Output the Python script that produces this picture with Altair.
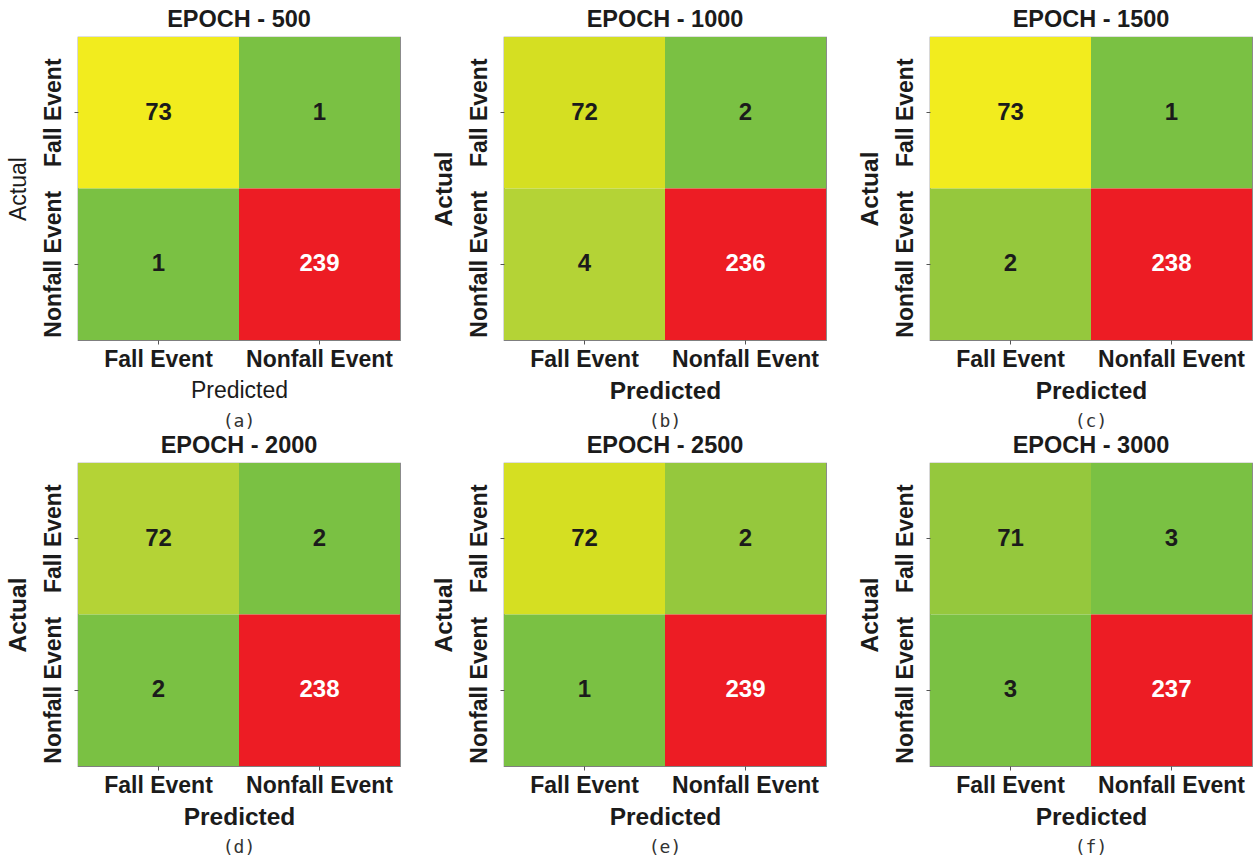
import altair as alt
import pandas as pd

# Confusion matrices of the fall detector at six training checkpoints
epochs = [500, 1000, 1500, 2000, 2500, 3000]
captions = ["(a)", "(b)", "(c)", "(d)", "(e)", "(f)"]
classes = ["Fall Event", "Nonfall Event"]

# cell order: actual/predicted = Fall/Fall, Fall/Nonfall, Nonfall/Fall, Nonfall/Nonfall
counts = [
    [73, 1, 1, 239],
    [72, 2, 4, 236],
    [73, 1, 2, 238],
    [72, 2, 2, 238],
    [72, 2, 1, 239],
    [71, 3, 3, 237],
]
# colour bucket of each cell (0 = green ... 4 = yellow, 5 = red)
shades = [
    [4, 0, 0, 5],
    [3, 0, 2, 5],
    [4, 0, 1, 5],
    [2, 0, 0, 5],
    [3, 1, 0, 5],
    [1, 0, 0, 5],
]
shade_colors = ["#7AC143", "#95C83D", "#B4D336", "#D5DF22", "#F2EC1E", "#ED1C24"]

W, H = 322, 303
FONT = "Liberation Sans"


def panel(i):
    rows = []
    k = 0
    for a in classes:
        for p in classes:
            rows.append({"Actual": a, "Predicted": p,
                         "count": counts[i][k], "shade": shades[i][k]})
            k += 1
    df = pd.DataFrame(rows)
    weight = "normal" if i == 0 else "bold"
    tsize = 23 if i == 0 else 24.5
    band = alt.Scale(domain=classes, paddingInner=0, paddingOuter=0)

    x = alt.X("Predicted:N", sort=classes, scale=band,
              axis=alt.Axis(title="Predicted", titleFontWeight=weight,
                            titleFontSize=tsize,
                            labelAngle=0, labelPadding=4, titlePadding=8))
    y = alt.Y("Actual:N", sort=classes, scale=band,
              axis=alt.Axis(title="Actual", titleFontWeight=weight,
                            titleFontSize=tsize,
                            labelAngle=-90, labelAlign="center",
                            labelBaseline="bottom", labelPadding=9,
                            titlePadding=12))

    base = alt.Chart(df)
    cells = base.mark_rect().encode(
        x=x, y=y,
        color=alt.Color("shade:O", legend=None,
                        scale=alt.Scale(domain=list(range(len(shade_colors))),
                                        range=shade_colors)),
    )
    numbers = base.mark_text(font=FONT, fontSize=24, fontWeight="bold").encode(
        x=x, y=y,
        text="count:Q",
        color=alt.condition("datum.shade == 5", alt.value("white"),
                            alt.value("#1b1b1b")),
    )
    caption = alt.Chart(pd.DataFrame({"cap": [captions[i]]})).mark_text(
        font="DejaVu Sans Mono", fontSize=18, color="#333333", baseline="middle"
    ).encode(x=alt.value(W / 2), y=alt.value(H + 82), text="cap:N")

    return alt.layer(cells, numbers, caption).properties(
        width=W, height=H,
        title=alt.Title(f"EPOCH - {epochs[i]}", font=FONT, fontSize=23.5,
                        fontWeight="bold", color="#1b1b1b", offset=6),
    )


row1 = alt.hconcat(*[panel(i) for i in range(3)], spacing=29)
row2 = alt.hconcat(*[panel(i) for i in range(3, 6)], spacing=29)

chart = (
    alt.vconcat(row1, row2, spacing=0)
    .properties(padding={"left": 4, "top": 6, "right": 0, "bottom": 0},
                background="white")
    .configure_view(stroke="#7f7f7f", strokeWidth=1.2)
    .configure_axis(
        domain=False,
        tickColor="#555555", tickSize=4,
        labelFont=FONT, labelFontSize=23, labelFontWeight="bold",
        labelColor="#1b1b1b",
        titleFont=FONT, titleColor="#1b1b1b",
    )
)

chart.save("out.html", embed_options={"renderer": "svg", "actions": False})
